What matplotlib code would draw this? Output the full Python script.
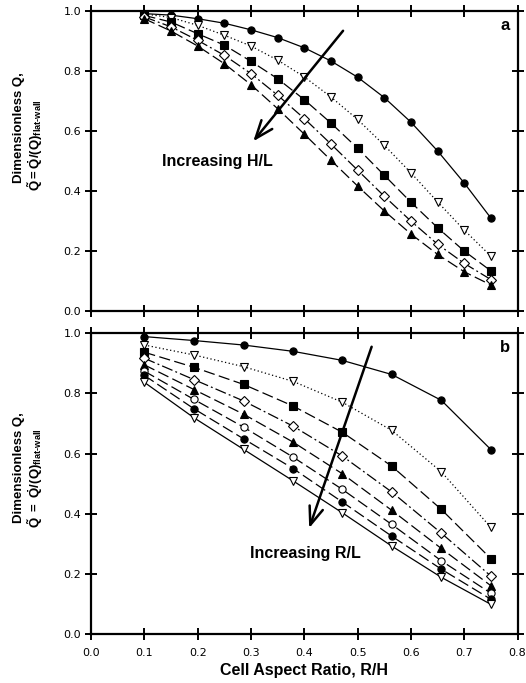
import matplotlib.pyplot as plt

# Figure configuration
FIG_W, FIG_H, DPI = 5.26, 6.83, 100
LABEL_FONT = "Liberation Sans"
TICK_FONT = "DejaVu Sans"

# Panel a data: varying H/L
x_a = [0.10, 0.15, 0.20, 0.25, 0.30, 0.35, 0.40, 0.45, 0.50, 0.55, 0.60, 0.65, 0.70, 0.75]
a_circle = [0.991, 0.986, 0.974, 0.959, 0.937, 0.911, 0.877, 0.833, 0.779, 0.711, 0.629, 0.533, 0.426, 0.309]
a_tri_down = [0.990, 0.978, 0.952, 0.919, 0.883, 0.836, 0.780, 0.713, 0.638, 0.552, 0.460, 0.363, 0.269, 0.182]
a_square = [0.985, 0.963, 0.924, 0.886, 0.832, 0.774, 0.704, 0.626, 0.542, 0.452, 0.362, 0.277, 0.199, 0.133]
a_diamond = [0.980, 0.947, 0.902, 0.852, 0.791, 0.719, 0.641, 0.556, 0.469, 0.382, 0.299, 0.222, 0.158, 0.104]
a_tri_up = [0.974, 0.933, 0.883, 0.824, 0.754, 0.674, 0.589, 0.502, 0.416, 0.333, 0.256, 0.188, 0.130, 0.086]

# Panel b data: varying R/L
x_b = [0.100, 0.193, 0.286, 0.379, 0.471, 0.564, 0.657, 0.750]
b_circle = [0.989, 0.976, 0.961, 0.940, 0.910, 0.863, 0.777, 0.613]
b_tri_down = [0.961, 0.928, 0.889, 0.840, 0.771, 0.677, 0.539, 0.354]
b_square = [0.937, 0.887, 0.830, 0.758, 0.671, 0.558, 0.414, 0.250]
b_diamond = [0.917, 0.846, 0.775, 0.691, 0.592, 0.472, 0.335, 0.192]
b_tri_up = [0.895, 0.813, 0.731, 0.638, 0.533, 0.411, 0.284, 0.160]
b_open_circle = [0.874, 0.780, 0.688, 0.588, 0.481, 0.364, 0.243, 0.135]
b_circle2 = [0.860, 0.749, 0.649, 0.550, 0.439, 0.325, 0.215, 0.115]
b_tri_down2 = [0.837, 0.719, 0.614, 0.509, 0.403, 0.292, 0.188, 0.098]

# line styles
SOLID = "-"
DOTTED = (0, (1, 2))
LONG_DASH = (0, (9, 3.5))
DASH_DOT = (0, (9, 2.5, 1.5, 2.5))

series_a = [
    (a_circle, "o", "k", SOLID),
    (a_tri_down, "v", "w", DOTTED),
    (a_square, "s", "k", LONG_DASH),
    (a_diamond, "D", "w", DASH_DOT),
    (a_tri_up, "^", "k", LONG_DASH),
]
series_b = [
    (b_circle, "o", "k", SOLID),
    (b_tri_down, "v", "w", DOTTED),
    (b_square, "s", "k", LONG_DASH),
    (b_diamond, "D", "w", DASH_DOT),
    (b_tri_up, "^", "k", LONG_DASH),
    (b_open_circle, "o", "w", LONG_DASH),
    (b_circle2, "o", "k", LONG_DASH),
    (b_tri_down2, "v", "w", SOLID),
]

fig = plt.figure(figsize=(FIG_W, FIG_H), dpi=DPI)
ax_a = fig.add_axes([0.173, 0.545, 0.811, 0.439])
ax_b = fig.add_axes([0.173, 0.072, 0.811, 0.440])


def style_axes(ax, show_x):
    ax.set_xlim(0, 0.8)
    ax.set_ylim(0, 1.0)
    ax.set_xticks([0.0, 0.1, 0.2, 0.3, 0.4, 0.5, 0.6, 0.7, 0.8])
    ax.set_yticks([0.0, 0.2, 0.4, 0.6, 0.8, 1.0])
    ax.tick_params(direction="inout", length=8, width=1.4, top=True, right=True,
                   labelsize=8, pad=3)
    ax.tick_params(axis="x", pad=6, labelbottom=show_x)
    for lab in ax.get_xticklabels() + ax.get_yticklabels():
        lab.set_fontfamily(TICK_FONT)
    for sp in ax.spines.values():
        sp.set_linewidth(1.6)


def draw_series(ax, x, series):
    for y, mk, fc, ls in series:
        ms = 4.8 if mk == "D" else 5.2
        ax.plot(x, y, color="k", lw=0.9, linestyle=ls, marker=mk, ms=ms,
                markerfacecolor=fc, markeredgecolor="k", markeredgewidth=0.8)


draw_series(ax_a, x_a, series_a)
draw_series(ax_b, x_b, series_b)
style_axes(ax_a, False)
style_axes(ax_b, True)

# arrows and annotations
arrow_kw = dict(arrowstyle="->,head_length=1.3,head_width=0.5", lw=1.8, color="k")
ax_a.annotate("", xy=(0.301, 0.558), xytext=(0.476, 0.941), arrowprops=arrow_kw)
ax_a.text(0.134, 0.499, "Increasing H/L", fontsize=11.5, fontweight="bold",
          family=LABEL_FONT, ha="left", va="center")
ax_b.annotate("", xy=(0.4075, 0.343), xytext=(0.528, 0.964), arrowprops=arrow_kw)
ax_b.text(0.298, 0.268, "Increasing R/L", fontsize=11.5, fontweight="bold",
          family=LABEL_FONT, ha="left", va="center")

ax_a.text(0.777, 0.953, "a", fontsize=12, fontweight="bold", family=LABEL_FONT,
          ha="center", va="center")
ax_b.text(0.777, 0.953, "b", fontsize=12, fontweight="bold", family=LABEL_FONT,
          ha="center", va="center")

# axis labels
ax_b.set_xlabel("Cell Aspect Ratio, R/H", fontsize=11.5, fontweight="bold",
                family=LABEL_FONT, labelpad=4)

plt.rcParams["mathtext.fontset"] = "custom"
plt.rcParams["mathtext.rm"] = "Liberation Sans:bold"
plt.rcParams["mathtext.bf"] = "Liberation Sans:bold"
plt.rcParams["mathtext.it"] = "Liberation Sans:bold"

fig.text(0.036, 0.813, "Dimensionless Q,", rotation=90, fontsize=9.5,
         fontweight="bold", family=LABEL_FONT, ha="center", va="center")
fig.text(0.066, 0.787, r"$\tilde{\mathrm{Q}}\mathrm{=}\dot{\mathrm{Q}}\mathrm{/(Q)}_{\mathrm{flat\text{-}wall}}$",
         rotation=90, fontsize=9.5, ha="center", va="center")
fig.text(0.036, 0.316, "Dimensionless Q,", rotation=90, fontsize=9.5,
         fontweight="bold", family=LABEL_FONT, ha="center", va="center")
fig.text(0.066, 0.300, r"$\tilde{\mathrm{Q}}\ \mathrm{=}\ \dot{\mathrm{Q}}\mathrm{/(Q)}_{\mathrm{flat\text{-}wall}}$",
         rotation=90, fontsize=9.5, ha="center", va="center")

plt.savefig("out.png", dpi=DPI)
plt.close(fig)
